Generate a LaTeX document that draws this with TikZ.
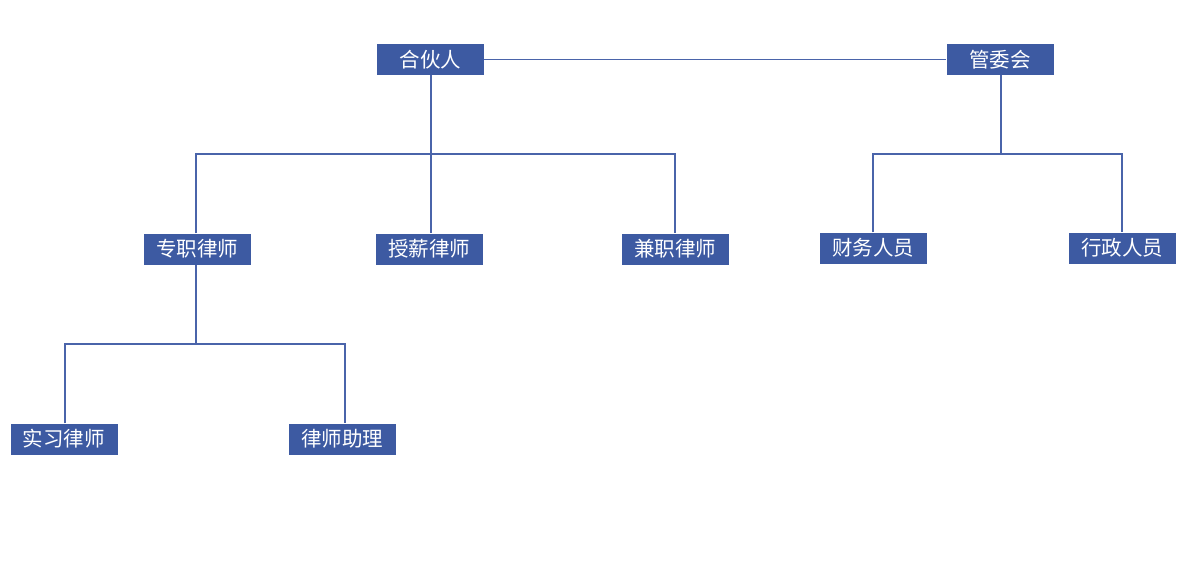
\documentclass[tikz,border=0pt]{standalone}
\usepackage{fontspec}
\newfontfamily\cjk{Noto Sans CJK SC}
\definecolor{boxblue}{HTML}{3D5AA2}
\definecolor{lineblue}{HTML}{4A64AA}
\begin{document}
\begin{tikzpicture}[x=1pt,y=-1pt,
  orgbox/.style={fill=boxblue,text=white,minimum width=107pt,minimum height=31pt,inner sep=0pt,font=\cjk\fontsize{20.5}{20.5}\selectfont},
  link/.style={draw=lineblue,line width=1.3pt}]
\useasboundingbox (0,0) rectangle (1200,571);
\node[orgbox] (hhr) at (430.5,59.5) {合伙人};
\node[orgbox] (gwh) at (1000,59.5) {管委会};
\node[orgbox] (zz) at (197,249) {专职律师};
\node[orgbox] (sx) at (429,249) {授薪律师};
\node[orgbox] (jz) at (675,249) {兼职律师};
\node[orgbox] (cw) at (873,248) {财务人员};
\node[orgbox] (xz) at (1122,248) {行政人员};
\node[orgbox] (sxls) at (64,439) {实习律师};
\node[orgbox] (lszl) at (342,439) {律师助理};
\coordinate (j1) at (431,154);
\coordinate (j2) at (1001,154);
\coordinate (j3) at (196,344);
\coordinate (k1) at (65,344);
\coordinate (k2) at (345,344);
\draw[link] (hhr.east) -- (gwh.west);
\draw[link] (hhr.south -| j1) -- (j1);
\draw[link] (zz.north -| j3) |- (j1) -| (jz.north);
\draw[link] (j1) -- (sx.north -| j1);
\draw[link] (gwh.south -| j2) -- (j2);
\draw[link] (cw.north) |- (j2) -| (xz.north);
\draw[link] (zz.south -| j3) -- (j3);
\draw[link] (sxls.north -| k1) -- (k1) -- (k2) -- (lszl.north -| k2);
\end{tikzpicture}
\end{document}
